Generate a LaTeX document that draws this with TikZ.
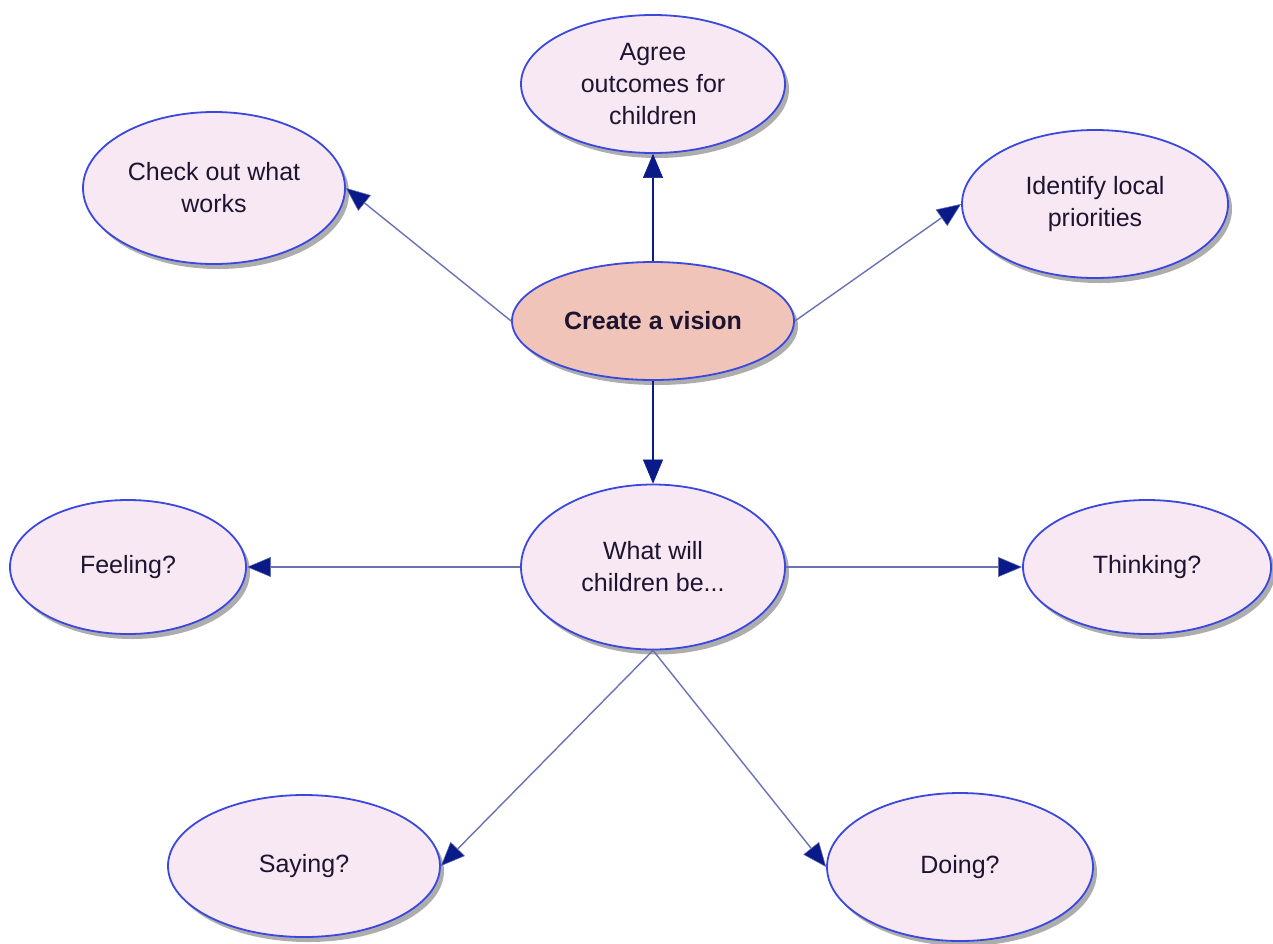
\documentclass[tikz,border=0pt]{standalone}
\usepackage{fontspec}
\setmainfont{Liberation Sans}
\usetikzlibrary{arrows.meta,shapes.geometric,shadows}
\definecolor{bubble}{HTML}{F7E8F3}
\definecolor{core}{HTML}{F0C4B8}
\definecolor{rim}{HTML}{3A48DD}
\definecolor{navy}{HTML}{0A1A88}
\definecolor{softline}{HTML}{6A72B4}
\definecolor{txt}{HTML}{1E1430}
\tikzset{
  bubble/.style={ellipse, draw=rim, line width=1.8pt, fill=bubble, inner sep=0pt,
    align=center, text=txt, font=\fontsize{25}{32}\selectfont,
    drop shadow={shadow xshift=4pt, shadow yshift=-5pt, fill=black!40, opacity=0.8}},
  corebubble/.style={bubble, fill=core, font=\fontsize{25}{32}\selectfont\bfseries},
  link/.style={draw=softline, line width=1.4pt, -{Triangle[length=24pt,width=20pt,fill=navy,line width=0.5pt]}},
  hlink/.style={link, line width=2.6pt},
  vlink/.style={link, draw=navy, line width=2.4pt}
}
\begin{document}
\begin{tikzpicture}[x=1pt,y=-1pt]
\useasboundingbox[fill=white] (0,0) rectangle (1273,943);
\node[bubble, minimum width=264pt, minimum height=138pt] (ag) at (653,84) {Agree\\outcomes for\\children};
\node[bubble, minimum width=262pt, minimum height=152pt] (co) at (214,188) {Check out what\\works};
\node[bubble, minimum width=266pt, minimum height=148pt] (id) at (1095,204) {Identify local\\priorities};
\node[corebubble, minimum width=282pt, minimum height=118pt] (cv) at (653,321) {Create a vision};
\node[bubble, minimum width=264pt, minimum height=165pt] (wc) at (653,567) {What will\\children be...};
\node[bubble, minimum width=236pt, minimum height=134pt] (fe) at (128,567) {Feeling?};
\node[bubble, minimum width=248pt, minimum height=134pt] (th) at (1147,567) {Thinking?};
\node[bubble, minimum width=272pt, minimum height=142pt] (sa) at (304,866) {Saying?};
\node[bubble, minimum width=266pt, minimum height=148pt] (do) at (960,867) {Doing?};
\draw[vlink] (cv.north) -- (ag.south);
\draw[link] (cv.west) -- (co.east);
\draw[link] (cv.east) -- (id.west);
\draw[vlink] (cv.south) -- (wc.north);
\draw[hlink] (wc.west) -- (fe.east);
\draw[hlink] (wc.east) -- (th.west);
\draw[link] (wc.south) -- (sa.east);
\draw[link] (wc.south) -- (do.west);
\end{tikzpicture}
\end{document}
